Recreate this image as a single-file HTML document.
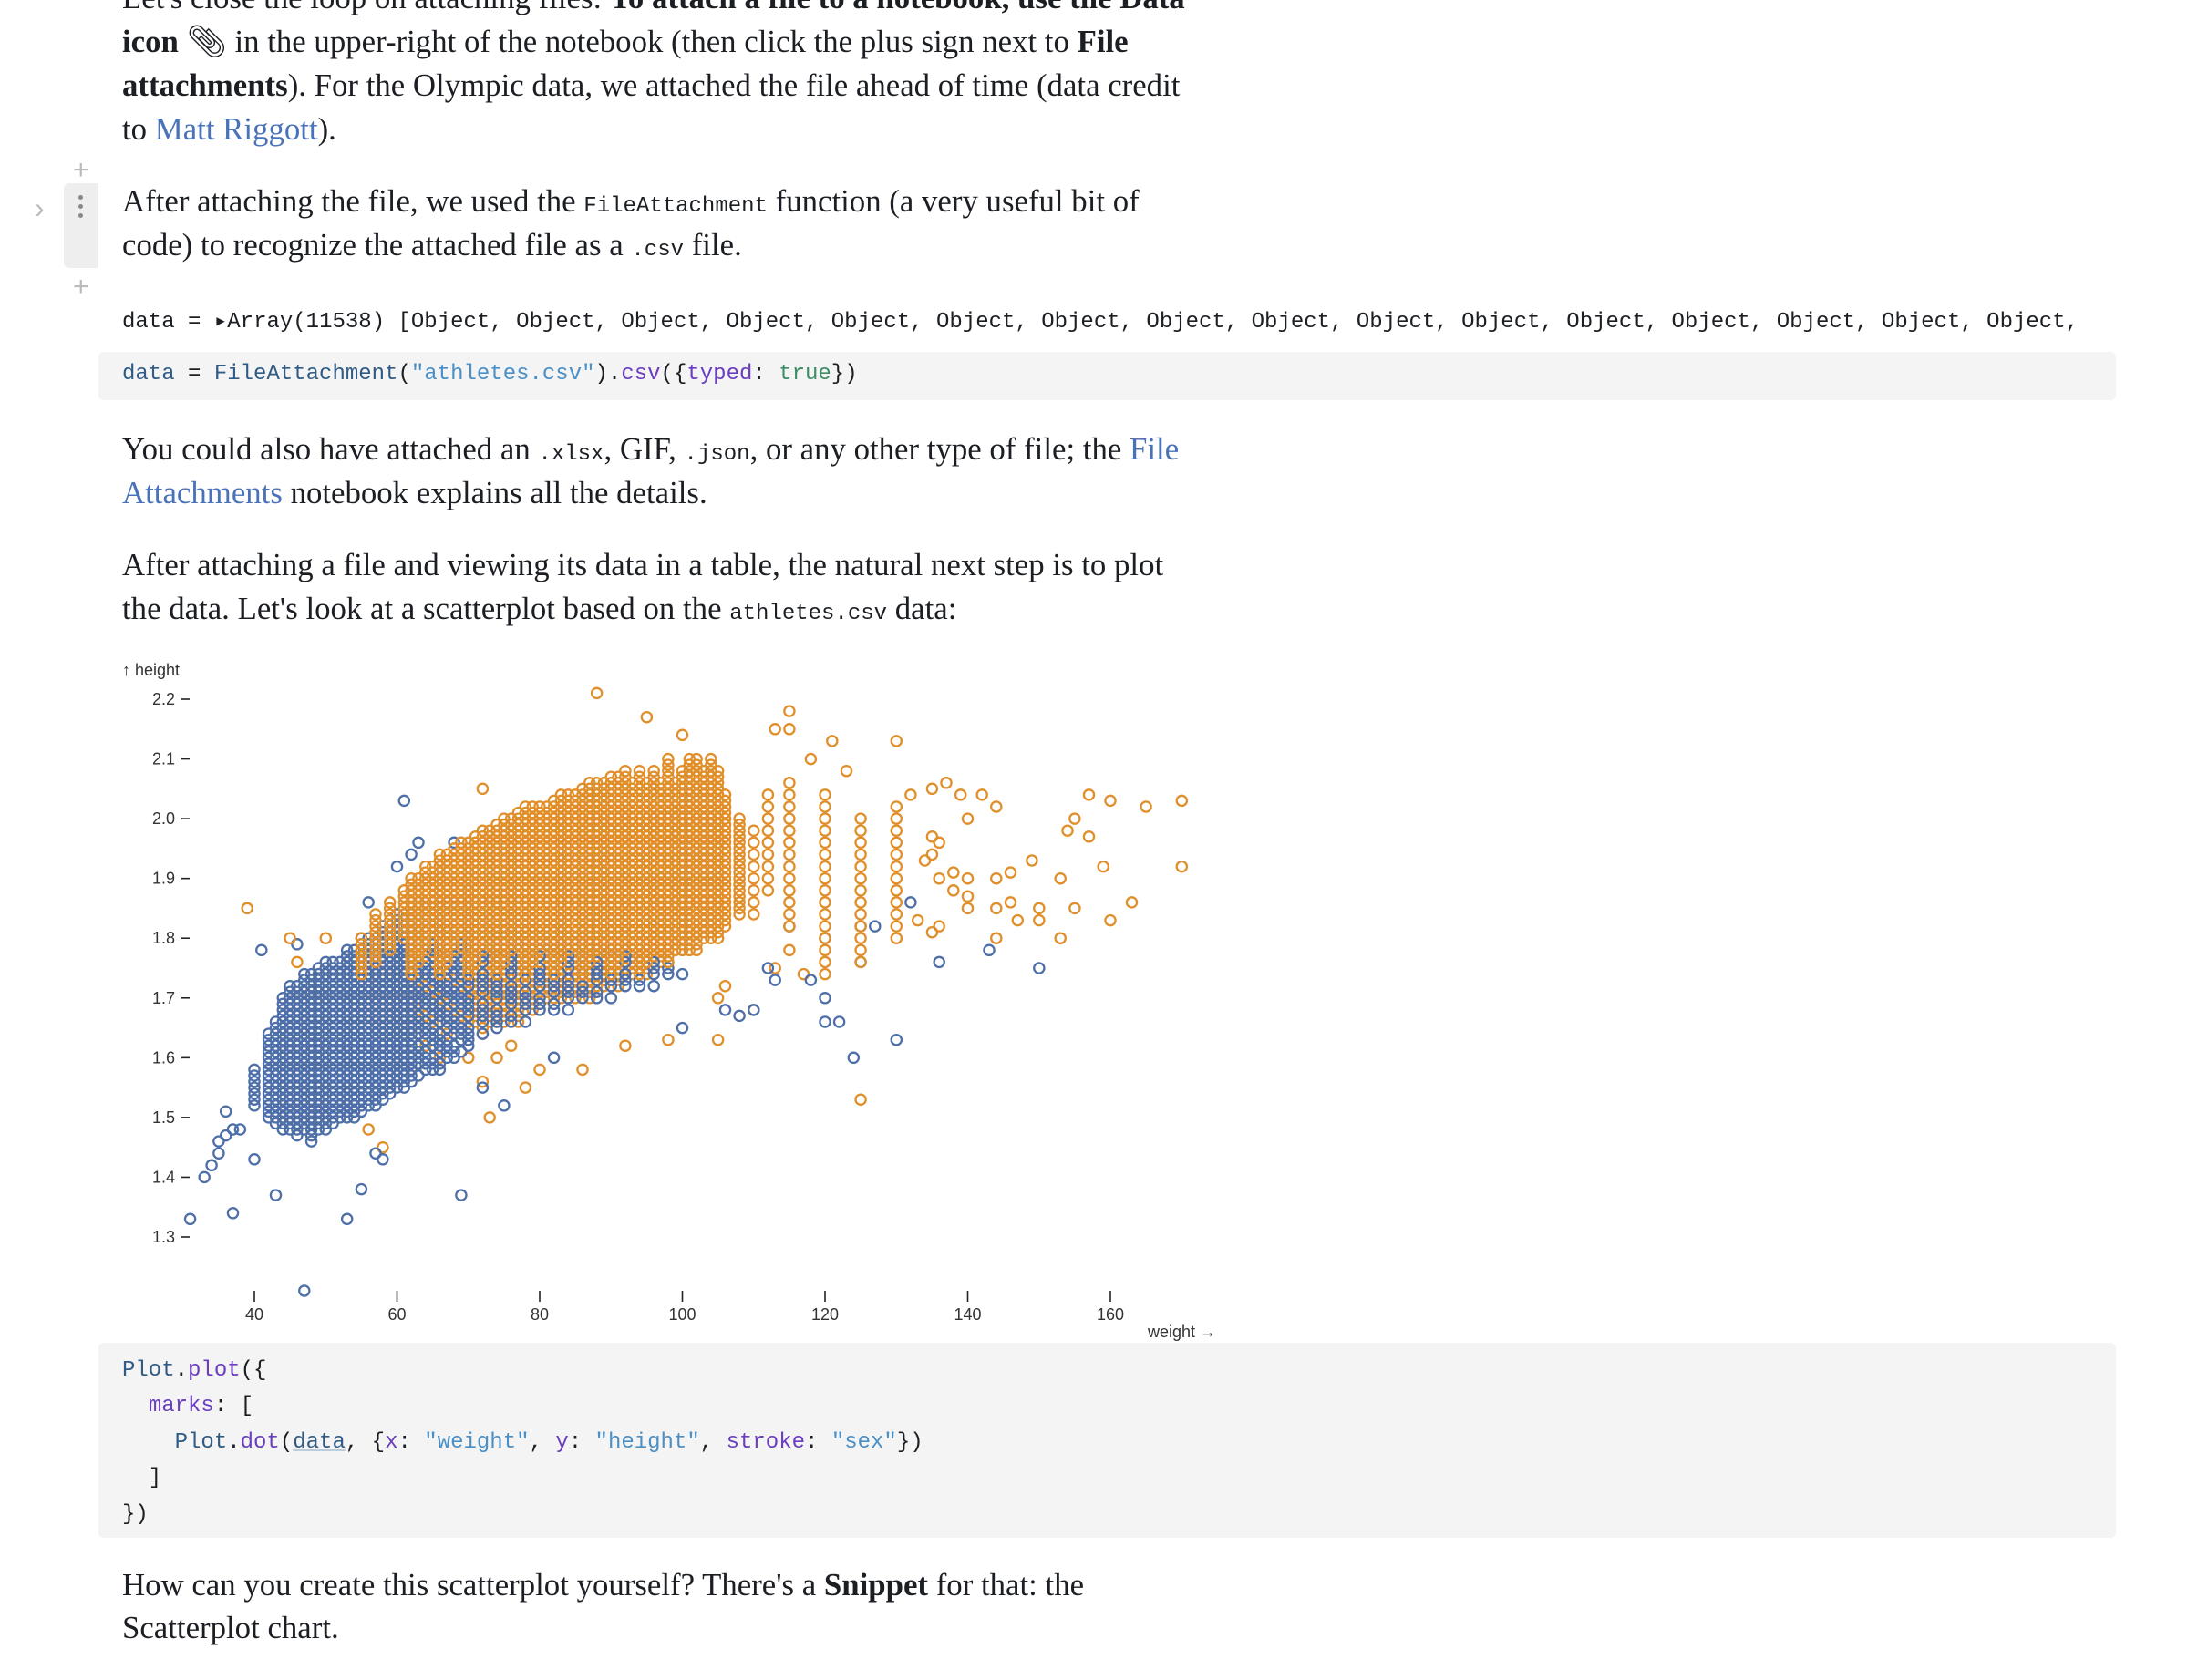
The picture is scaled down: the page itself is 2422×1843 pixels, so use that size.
<!DOCTYPE html>
<html><head><meta charset="utf-8">
<style>
html,body{margin:0;padding:0;background:#fff;}
body{width:2422px;height:1843px;position:relative;overflow:hidden;font-family:"Liberation Serif",serif;color:#1b1e23;}
.p{position:absolute;left:134px;font-size:34.8px;line-height:48px;white-space:nowrap;}
.p a{color:#4a72b8;text-decoration:none;}
.mono{font-family:"Liberation Mono",monospace;font-size:24px;}
.ln{position:absolute;white-space:pre;font-family:"Liberation Mono",monospace;font-size:24px;line-height:39.4px;color:#1b1e23;}
.codebg{position:absolute;left:108px;width:2213px;background:#f4f4f4;border-radius:6px;}
.v{color:#2f5b86}.f{color:#6b3ec0}.s{color:#4a8fc6}.t{color:#3d8e62}.k{color:#6b3ec0}
</style></head><body>
<div class="p" style="top:-26px">Let's close the loop on attaching files: <b>To attach a file to a notebook, use the Data</b></div>
<div class="p" style="top:22px"><b>icon</b> &#x1F4CE;&#xFE0E; in the upper-right of the notebook (then click the plus sign next to <b>File</b></div>
<div class="p" style="top:70px"><b>attachments</b>). For the Olympic data, we attached the file ahead of time (data credit</div>
<div class="p" style="top:118px">to <a>Matt Riggott</a>).</div>

<div style="position:absolute;left:80px;top:170px;color:#bbb;font:30px 'Liberation Sans',sans-serif">+</div>
<div style="position:absolute;left:70px;top:201px;width:38px;height:93px;background:#eee;border-radius:6px 0 0 6px"></div>
<div style="position:absolute;left:86px;top:214px;width:6px;line-height:0">
<div style="width:5px;height:5px;border-radius:3px;background:#888;margin-bottom:5px"></div><div style="width:5px;height:5px;border-radius:3px;background:#888;margin-bottom:5px"></div><div style="width:5px;height:5px;border-radius:3px;background:#888"></div></div>
<div style="position:absolute;left:38px;top:210px;color:#bbb;font:32px 'Liberation Sans',sans-serif">&#x203A;</div>
<div style="position:absolute;left:80px;top:298px;color:#bbb;font:30px 'Liberation Sans',sans-serif">+</div>

<div class="p" style="top:197px">After attaching the file, we used the <span class="mono">FileAttachment</span> function (a very useful bit of</div>
<div class="p" style="top:245px">code) to recognize the attached file as a <span class="mono">.csv</span> file.</div>

<div class="ln" style="left:134px;top:334px">data = &#x25B8;Array(11538) [Object, Object, Object, Object, Object, Object, Object, Object, Object, Object, Object, Object, Object, Object, Object, Object,</div>
<div class="codebg" style="top:386px;height:53px"></div>
<div class="ln" style="left:134px;top:391px"><span class="v">data</span> = <span class="v">FileAttachment</span>(<span class="s">"athletes.csv"</span>).<span class="f">csv</span>({<span class="k">typed</span>: <span class="t">true</span>})</div>

<div class="p" style="top:469px">You could also have attached an <span class="mono">.xlsx</span>, GIF, <span class="mono">.json</span>, or any other type of file; the <a>File</a></div>
<div class="p" style="top:517px"><a>Attachments</a> notebook explains all the details.</div>
<div class="p" style="top:596px">After attaching a file and viewing its data in a table, the natural next step is to plot</div>
<div class="p" style="top:644px">the data. Let's look at a scatterplot based on the <span class="mono">athletes.csv</span> data:</div>

<svg id="chart" style="position:absolute;left:0;top:0" width="2422" height="1843"></svg>

<div class="codebg" style="top:1473px;height:214px"></div>
<div class="ln" style="left:134px;top:1484px"><span class="v">Plot</span>.<span class="f">plot</span>({
  <span class="k">marks</span>: [
    <span class="v">Plot</span>.<span class="f">dot</span>(<span class="v" style="text-decoration:underline;text-decoration-color:#bcd">data</span>, {<span class="k">x</span>: <span class="s">"weight"</span>, <span class="k">y</span>: <span class="s">"height"</span>, <span class="k">stroke</span>: <span class="s">"sex"</span>})
  ]
})</div>
<div class="p" style="top:1715px">How can you create this scatterplot yourself? There's a <b>Snippet</b> for that: the</div>
<div class="p" style="top:1762px">Scatterplot chart.</div>

<script>
// Dense columns (weight kg, low height, high height)
const femaleColW  = [40,42,43,44,45,46,47,48,49,50,51,52,53,54,55,56,57,58,59,60,61,62,63,64,65,66,67,68,69,70,72,74,76,78,80,82,84,86,88,90,92,94,96,98,100];
const femaleColLo = [1.52,1.50,1.49,1.48,1.48,1.47,1.48,1.46,1.48,1.48,1.49,1.50,1.50,1.50,1.51,1.52,1.52,1.53,1.54,1.55,1.55,1.56,1.57,1.58,1.58,1.58,1.59,1.60,1.61,1.62,1.64,1.64,1.66,1.66,1.68,1.68,1.68,1.70,1.70,1.70,1.72,1.72,1.72,1.74,1.74];
const femaleColHi = [1.58,1.64,1.66,1.70,1.72,1.72,1.74,1.74,1.75,1.76,1.76,1.76,1.78,1.78,1.80,1.80,1.80,1.82,1.82,1.84,1.84,1.84,1.85,1.86,1.86,1.86,1.86,1.88,1.88,1.88,1.86,1.86,1.84,1.84,1.82,1.82,1.80,1.80,1.78,1.78,1.78,1.76,1.76,1.76,1.74];
const maleColW  = [55,57,59,61,62,63,64,65,66,67,68,69,70,71,72,73,74,75,76,77,78,79,80,81,82,83,84,85,86,87,88,89,90,91,92,93,94,95,96,97,98,99,100,101,102,103,104,105,106,108];
const maleColLo = [1.66,1.66,1.64,1.64,1.66,1.64,1.66,1.65,1.66,1.64,1.66,1.64,1.66,1.66,1.64,1.66,1.66,1.66,1.68,1.66,1.68,1.68,1.68,1.70,1.70,1.70,1.70,1.70,1.72,1.70,1.72,1.72,1.72,1.72,1.74,1.74,1.74,1.74,1.76,1.76,1.76,1.78,1.78,1.78,1.78,1.80,1.80,1.80,1.82,1.84];
const maleColHi = [1.80,1.84,1.86,1.88,1.90,1.90,1.92,1.92,1.94,1.94,1.95,1.96,1.96,1.97,1.98,1.98,1.99,2.00,2.00,2.01,2.02,2.02,2.02,2.02,2.03,2.04,2.04,2.04,2.05,2.06,2.06,2.06,2.07,2.07,2.08,2.06,2.08,2.06,2.08,2.06,2.10,2.06,2.08,2.10,2.10,2.08,2.10,2.08,2.04,2.00];
// Sparse male columns (every 0.02)
const maleSparseW  = [110,112,115,120,125,130];
const maleSparseLo = [1.84,1.88,1.82,1.74,1.76,1.80];
const maleSparseHi = [1.98,2.04,2.06,2.04,2.00,2.02];
// Individual outliers
const femaleOutW = [47,31,33,37,43,53,55,69,34,35,35,36,37,38,36,40,57,58,61,63,41,46,56,68,75,72,82,100,106,108,110,112,113,118,120,120,122,124,130,127,125,132,136,143,150,115,120,125,96,92,95,60,62,64,66,78,80,84,88];
const femaleOutH = [1.21,1.33,1.40,1.34,1.37,1.33,1.38,1.37,1.42,1.44,1.46,1.47,1.48,1.48,1.51,1.43,1.44,1.43,2.03,1.96,1.78,1.79,1.86,1.96,1.52,1.55,1.60,1.65,1.68,1.67,1.68,1.75,1.73,1.73,1.70,1.66,1.66,1.60,1.63,1.82,1.82,1.86,1.76,1.78,1.75,1.82,1.80,1.76,1.82,1.82,1.88,1.92,1.94,1.90,1.92,1.96,1.90,1.94,1.92];
const maleOutW = [88,95,100,115,115,113,130,121,72,39,45,50,46,132,135,137,139,142,144,140,157,160,165,170,170,155,154,157,159,153,149,146,144,140,138,136,138,140,140,144,146,147,150,150,153,155,160,163,144,136,135,133,135,136,135,134,125,78,73,56,58,86,92,98,105,105,110,106,113,117,115,123,118,60,62,64,66,68,70,72,74,76,80];
const maleOutH = [2.21,2.17,2.14,2.18,2.15,2.15,2.13,2.13,2.05,1.85,1.80,1.80,1.76,2.04,2.05,2.06,2.04,2.04,2.02,2.00,2.04,2.03,2.02,2.03,1.92,2.00,1.98,1.97,1.92,1.90,1.93,1.91,1.90,1.90,1.91,1.90,1.88,1.87,1.85,1.85,1.86,1.83,1.85,1.83,1.80,1.85,1.83,1.86,1.80,1.82,1.81,1.83,1.97,1.96,1.94,1.93,1.53,1.55,1.50,1.48,1.45,1.58,1.62,1.63,1.63,1.70,1.68,1.72,1.75,1.74,1.78,2.08,2.10,1.60,1.58,1.62,1.60,1.62,1.60,1.56,1.60,1.62,1.58];
const xTicks = [40,60,80,100,120,140,160];
const yTicks = [1.3,1.4,1.5,1.6,1.7,1.8,1.9,2.0,2.1,2.2];
const yTickLabels = ["1.3","1.4","1.5","1.6","1.7","1.8","1.9","2.0","2.1","2.2"];

const NS = "http://www.w3.org/2000/svg";
const svg = document.getElementById('chart');
const x = w => 279 + (w - 40) * (1218 - 279) / 120;
const y = h => 767 + (2.2 - h) * (1357 - 767) / 0.9;
const BLUE = "#4e6fa8", ORANGE = "#e08f2a";

function el(tag, attrs, parent) {
  const e = document.createElementNS(NS, tag);
  for (const k in attrs) e.setAttribute(k, attrs[k]);
  (parent || svg).appendChild(e);
  return e;
}
function dot(g, w, h) {
  const c = el('circle', {cx: x(w).toFixed(1), cy: y(h).toFixed(1), r: 5.6}, g);
  
  
}
const gMLow = el('g', {fill: 'none', stroke: ORANGE, 'stroke-width': 2.3});


const gF = el('g', {fill: 'none', stroke: BLUE, 'stroke-width': 2.3});


const gM = el('g', {fill: 'none', stroke: ORANGE, 'stroke-width': 2.3});



for (let i = 0; i < maleColW.length; i++) {
  const cut = 174 + (i % 4) * 2;
  for (let k = Math.round(maleColLo[i] * 100); k <= Math.round(maleColHi[i] * 100); k++) {
    dot(k < cut ? gMLow : gM, maleColW[i], k / 100);
  }
}
for (let i = 0; i < femaleColW.length; i++) {
  for (let k = Math.round(femaleColLo[i] * 100); k <= Math.round(femaleColHi[i] * 100); k++) {
    if ((k + i) % 5 === 0 && femaleColW[i] > 62) continue;
    dot(gF, femaleColW[i], k / 100);
  }
}
for (let i = 0; i < femaleOutW.length; i++) dot(gF, femaleOutW[i], femaleOutH[i]);
for (let i = 0; i < maleSparseW.length; i++) {
  for (let k = Math.round(maleSparseLo[i] * 100); k <= Math.round(maleSparseHi[i] * 100); k += 2) {
    dot(gM, maleSparseW[i], k / 100);
  }
}
for (let i = 0; i < maleOutW.length; i++) dot(maleOutH[i] < 1.8 ? gMLow : gM, maleOutW[i], maleOutH[i]);

const axis = el('g', {'font-family': 'Liberation Sans, sans-serif', 'font-size': 18, fill: '#333'});


for (let i = 0; i < yTicks.length; i++) {
  const t = el('line', {x1: 199, x2: 208, y1: y(yTicks[i]), y2: y(yTicks[i]), stroke: '#222', 'stroke-width': 1.6}, axis);
  
  
  const l = el('text', {x: 192, y: y(yTicks[i]) + 6, 'text-anchor': 'end'}, axis);
  l.textContent = yTickLabels[i];
  
  
}
for (let i = 0; i < xTicks.length; i++) {
  const t = el('line', {x1: x(xTicks[i]), x2: x(xTicks[i]), y1: 1416, y2: 1428, stroke: '#222', 'stroke-width': 1.6}, axis);
  
  
  const l = el('text', {x: x(xTicks[i]), y: 1448, 'text-anchor': 'middle'}, axis);
  l.textContent = String(xTicks[i]);
  
  
}
const yt = el('text', {x: 134, y: 741}, axis);
yt.textContent = "\u2191 height";


const xt = el('text', {x: 1334, y: 1467, 'text-anchor': 'end'}, axis);
xt.textContent = "weight \u2192";


</script>
</body></html>
